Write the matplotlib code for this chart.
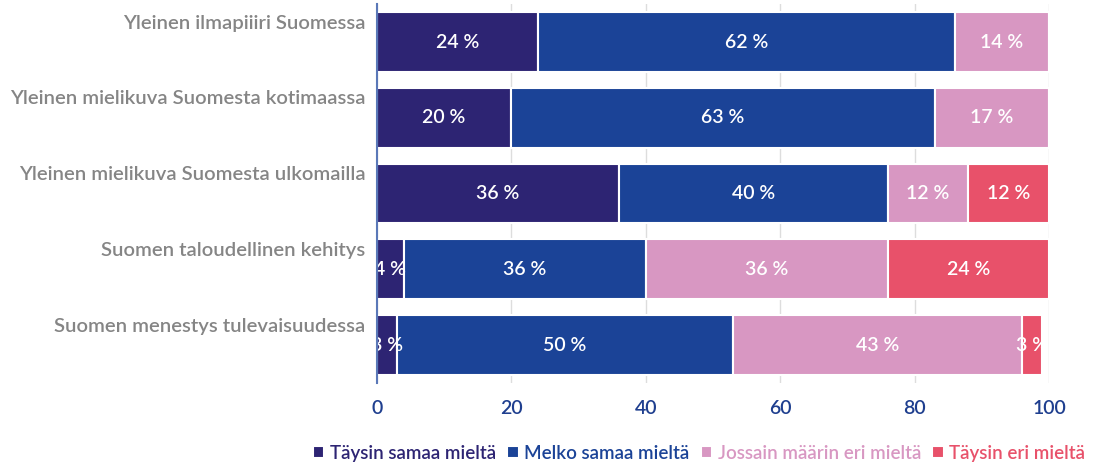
import matplotlib.pyplot as plt
import numpy as np

plt.rcParams['font.family'] = ['Lato', 'DejaVu Sans']

categories = [
    "Yleinen ilmapiiiri Suomessa",
    "Yleinen mielikuva Suomesta kotimaassa",
    "Yleinen mielikuva Suomesta ulkomailla",
    "Suomen taloudellinen kehitys",
    "Suomen menestys tulevaisuudessa",
]
series_names = ["Täysin samaa mieltä", "Melko samaa mieltä",
                "Jossain määrin eri mieltä", "Täysin eri mieltä"]
taysin_samaa = [24, 20, 36, 4, 3]
melko_samaa = [62, 63, 40, 36, 50]
jossain_eri = [14, 17, 12, 36, 43]
taysin_eri = [0, 0, 12, 24, 3]
xticks = [0, 20, 40, 60, 80, 100]

colors = ["#2d2473", "#1b4397", "#d897c2", "#e8516a"]

fig = plt.figure(figsize=(11.02, 4.67), dpi=100)
ax = fig.add_axes([0.342, 0.180, 0.610, 0.811])

y = np.arange(len(categories))
left = np.zeros(len(categories))
for name, vals, col in zip(series_names, [taysin_samaa, melko_samaa, jossain_eri, taysin_eri], colors):
    vals = np.array(vals, dtype=float)
    ax.barh(y, vals, left=left, height=0.79, color=col, edgecolor="white",
            linewidth=1.5, label=name, zorder=3)
    for yi, l, v in zip(y, left, vals):
        if v > 0:
            ax.text(l + v / 2, yi, f"{int(v)} %", ha="center", va="center",
                    color="white", fontsize=14, fontweight="semibold", zorder=4)
    left += vals

ax.set_xlim(0, 100)
ax.set_ylim(4.5, -0.5)
ax.set_xticks(xticks)
ax.set_xticklabels([str(t) for t in xticks], color="#1f3f8f", fontsize=14,
                   fontweight="semibold")
ax.tick_params(axis="x", length=0, pad=12)
ax.set_yticks([])
ax.grid(axis="x", color="#dddddd", linewidth=1, zorder=0)
for s in ["top", "right", "bottom"]:
    ax.spines[s].set_visible(False)
ax.spines["left"].set_color("#5a78b8")
ax.spines["left"].set_linewidth(1.5)
ax.spines["left"].set_zorder(5)

# category names sit above the bar centre
trans = ax.get_yaxis_transform()
for yi, cat in zip(y, categories):
    ax.text(-0.017, yi - 0.25, cat, transform=trans, ha="right", va="center",
            color="#858585", fontsize=14.6, fontweight="semibold")

leg = fig.legend(loc="lower right", bbox_to_anchor=(1.0, -0.025), ncol=4,
                 frameon=False, fontsize=13.5, handlelength=0.6, handleheight=0.6,
                 handletextpad=0.3, columnspacing=0.6, labelcolor=colors)
for t in leg.get_texts():
    t.set_fontweight("semibold")

fig.savefig("out.png", dpi=100)
